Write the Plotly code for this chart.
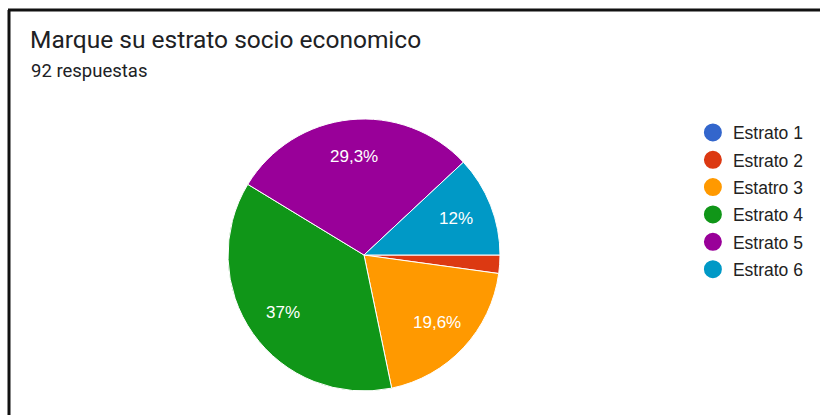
import math
import plotly.graph_objects as go

# Survey results: socio-economic stratum of respondents
labels = ["Estrato 1", "Estrato 2", "Estatro 3", "Estrato 4", "Estrato 5", "Estrato 6"]
counts = [0, 2, 18, 34, 27, 11]
colors = ["#3366cc", "#dc3912", "#ff9900", "#109618", "#990099", "#0099c6"]

title_text = "Marque su estrato socio economico"
total = sum(counts)
subtitle_text = f"{total} respuestas"

W, H = 820, 415
FONT = "Liberation Sans, Arial, sans-serif"

# pie geometry in pixels
CX, CY, R = 364, 255, 136
LABEL_R = 0.73 * R


def pct_label(c):
    p = 100 * c / total
    if p < 5:
        return ""
    return f"{p:.3g}".replace(".", ",") + "%"


fig = go.Figure()

fig.add_trace(go.Pie(
    labels=labels,
    values=counts,
    textinfo="none",
    sort=False,
    direction="clockwise",
    rotation=90,
    marker=dict(colors=colors, line=dict(color="white", width=1)),
    showlegend=False,
    domain=dict(x=[(CX - R) / W, (CX + R) / W],
                y=[1 - (CY + R) / H, 1 - (CY - R) / H]),
))

# percentage labels placed along each slice's bisector
annotations = []
cum = 0
for c in counts:
    txt = pct_label(c)
    mid = 2 * math.pi * (cum + c / 2) / total  # clockwise from 3 o'clock
    cum += c
    if not txt:
        continue
    px = CX + LABEL_R * math.cos(mid)
    py = CY + LABEL_R * math.sin(mid)
    annotations.append(dict(
        text=txt, x=px / W, y=1 - py / H, xref="paper", yref="paper",
        xanchor="center", yanchor="middle", showarrow=False,
        font=dict(size=17, color="white", family=FONT),
    ))

# circular legend markers, one entry per category
for i, (lab, col) in enumerate(zip(labels, colors)):
    fig.add_trace(go.Scatter(
        x=[None], y=[None], mode="markers", name=lab,
        legendgroup=f"g{i}",
        marker=dict(symbol="circle", size=16, color=col, line=dict(color=col, width=2)),
    ))

annotations += [
    dict(text=title_text, x=28 / W, y=1 - 40 / H, xref="paper", yref="paper",
         xanchor="left", yanchor="middle", showarrow=False,
         font=dict(size=24.5, color="#202124", family="Roboto, Arial, sans-serif")),
    dict(text=subtitle_text, x=29 / W, y=1 - 71 / H, xref="paper", yref="paper",
         xanchor="left", yanchor="middle", showarrow=False,
         font=dict(size=18.5, color="#202124", family="Roboto, Arial, sans-serif")),
]

fig.update_layout(
    width=W, height=H,
    margin=dict(l=0, r=0, t=0, b=0),
    paper_bgcolor="white", plot_bgcolor="white",
    font=dict(family=FONT, color="#222222"),
    xaxis=dict(visible=False), yaxis=dict(visible=False),
    legend=dict(
        x=0.845, y=0.724, xanchor="left", yanchor="top",
        font=dict(size=17.5, color="#222222", family=FONT),
        tracegroupgap=1.6, itemsizing="trace",
        bgcolor="rgba(0,0,0,0)",
    ),
    annotations=annotations,
    shapes=[
        dict(type="line", xref="paper", yref="paper", x0=8 / W, x1=1,
             y0=1 - 10 / H, y1=1 - 10 / H, line=dict(color="#111111", width=3)),
        dict(type="line", xref="paper", yref="paper", x0=9 / W, x1=9 / W,
             y0=0, y1=1 - 10 / H, line=dict(color="#111111", width=3)),
    ],
)

fig.write_html("out.html")
